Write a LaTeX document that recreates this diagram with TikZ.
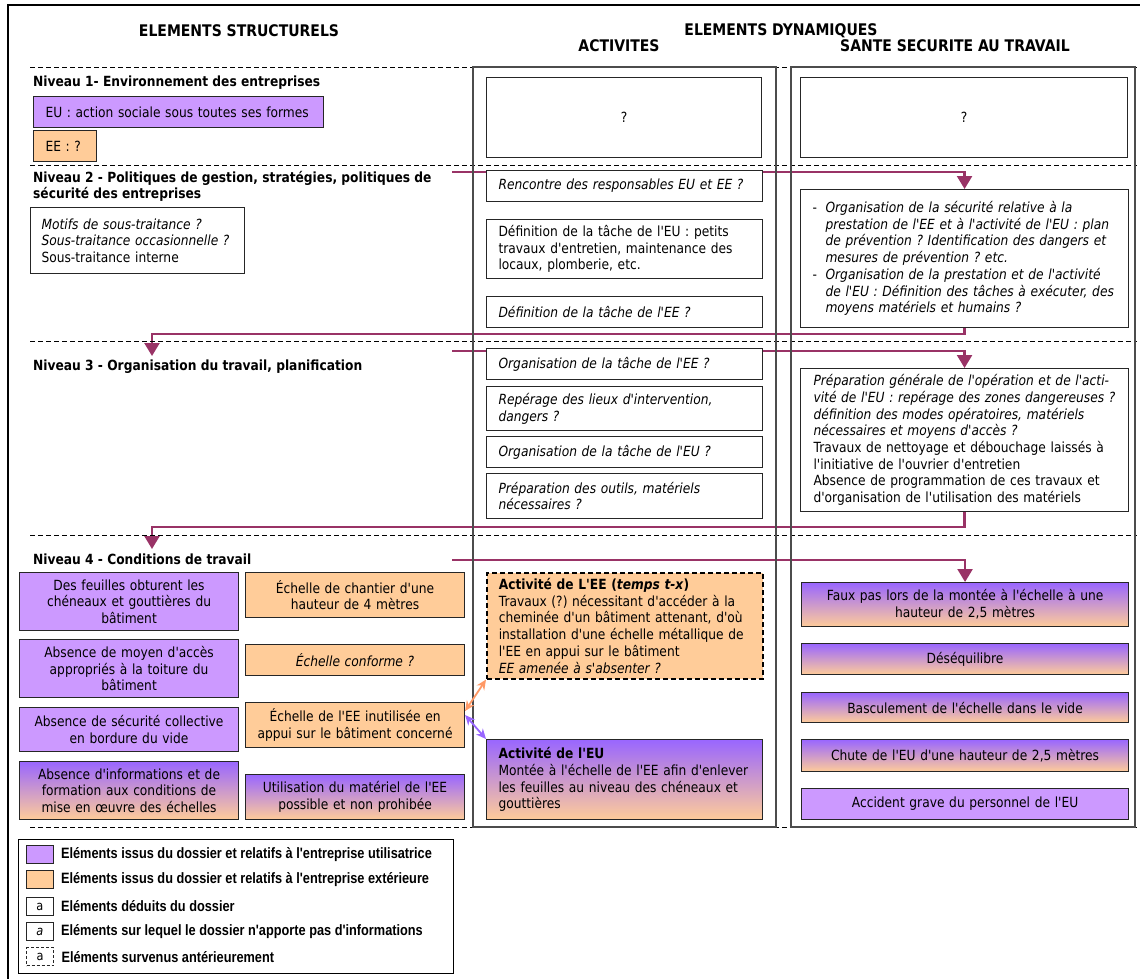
\documentclass[tikz,border=0pt]{standalone}
\usepackage{fontspec}
\usepackage{xfp}
\usepackage{tikz}
\usetikzlibrary{arrows.meta}
\newfontfamily\tahfont{DejaVu Sans}[FakeStretch=0.875]
\newfontfamily\legfont{Liberation Sans}[FakeStretch=0.85]
\definecolor{eucol}{HTML}{CC99FF}
\definecolor{eecol}{HTML}{FFCC99}
\definecolor{mixcol}{HTML}{9966FF}
\definecolor{flowcol}{HTML}{993366}
\definecolor{eelinkcol}{HTML}{FF9966}
\pgfdeclarelayer{background}
\pgfsetlayers{background,main}
\frenchspacing

\begin{document}
\begin{tikzpicture}[x=1pt,y=-1pt,font=\tahfont\fontsize{14}{16.7}\selectfont,
cell/.style n args={3}{rectangle,draw=black!85,line width=1.1pt,fill=white,anchor=north west,inner xsep=#3pt,inner ysep=0pt,minimum height=#2pt,text width=\fpeval{#1-2*#3}pt},
eu/.style={fill=eucol},ee/.style={fill=eecol},mix/.style={top color=mixcol,bottom color=eecol},
lvl/.style={font=\tahfont\bfseries\fontsize{14}{16.7}\selectfont,anchor=west,inner sep=0pt,align=left},
head/.style={font=\tahfont\bfseries\fontsize{16}{18}\selectfont,inner sep=0pt},
flow/.style={draw=flowcol,line width=2.4pt,-{Triangle[length=13pt,width=15pt]}},
link/.style={line width=1.8pt,{Stealth[length=10pt,width=9pt]}-{Stealth[length=10pt,width=9pt]}},
sep/.style={dash pattern=on 5pt off 3pt,line width=0.9pt},
colframe/.style={draw=black!70,line width=2pt},
swatch/.style={rectangle,draw=black!85,line width=0.9pt,anchor=north west,minimum width=27pt,minimum height=18pt,inner sep=0pt,font=\tahfont\fontsize{13}{13}\selectfont},
legtext/.style={anchor=west,inner sep=0pt,font=\legfont\bfseries\fontsize{15}{17}\selectfont}]
\useasboundingbox (0,0) rectangle (1140,979);
\draw[line width=2pt] (1140,5) -| (8,979);
\foreach \y in {67,165,341,535,827} {
   \draw[sep] (30,\y) -- (1137,\y);
}
\draw[colframe] (473,67) rectangle (776,827);
\draw[colframe] (791,67) rectangle (1135,827);

\node[head] (hstruct) at (239,31) {ELEMENTS STRUCTURELS};
\node[head] (hdyn) at (781,31) {ELEMENTS DYNAMIQUES};
\node[head] (hact) at (619,46) {ACTIVITES};
\node[head] (hsst) at (955,46) {SANTE SECURITE AU TRAVAIL};

\node[lvl] (niv1) at (33,83) {Niveau 1- Environnement des entreprises};
\node[cell={290}{31}{12},eu,align=left] (eu1) at (33,96) {EU : action sociale sous toutes ses formes};
\node[cell={63}{31}{12},ee,align=left] (ee1) at (33,130) {EE : ?};
\node[cell={275}{80}{12},align=center] (act1) at (486,77) {?};
\node[cell={327}{80}{12},align=center] (sst1) at (800,77) {?};

\node[lvl] (niv2) at (33,186.5) {Niveau 2 - Politiques de gestion, stratégies, politiques de\\sécurité des entreprises};
\node[cell={214}{66}{11},align=left] (motifs) at (30,207) {\textit{Motifs de sous-traitance ?}\\\textit{Sous-traitance occasionnelle ?}\\Sous-traitance interne};
\node[cell={276}{31}{12},align=left] (rencontre) at (486,170) {\textit{Rencontre des responsables EU et EE ?}};
\node[cell={276}{59}{12},align=left] (defeu) at (486,219) {Définition de la tâche de l'EU : petits\\travaux d'entretien, maintenance des\\locaux, plomberie, etc.};
\node[cell={276}{31}{12},align=left] (defee) at (486,296) {\textit{Définition de la tâche de l'EE ?}};
\node[cell={328}{138}{12},align=left] (sst2) at (800,189) {\makebox[13pt][l]{-}\textit{Organisation de la sécurité relative à la}\\
\hspace*{13pt}\textit{prestation de l'EE et à l'activité de l'EU : plan}\\
\hspace*{13pt}\textit{de prévention ? Identification des dangers et}\\
\hspace*{13pt}\textit{mesures de prévention ? etc.}\\
\makebox[13pt][l]{-}\textit{Organisation de la prestation et de l'activité}\\
\hspace*{13pt}\textit{de l'EU : Définition des tâches à exécuter, des}\\
\hspace*{13pt}\textit{moyens matériels et humains ?}};

\node[lvl] (niv3) at (33,367) {Niveau 3 - Organisation du travail, planification};
\node[cell={276}{31}{12},align=left] (orgee) at (486,348) {\textit{Organisation de la tâche de l'EE ?}};
\node[cell={276}{44}{12},align=left] (reperage) at (486,386) {\textit{Repérage des lieux d'intervention,}\\\textit{dangers ?}};
\node[cell={276}{31}{12},align=left] (orgeu) at (486,436) {\textit{Organisation de la tâche de l'EU ?}};
\node[cell={276}{45}{12},align=left] (outils) at (486,473) {\textit{Préparation des outils, matériels}\\\textit{nécessaires ?}};
\node[cell={328}{143}{13},align=left] (sst3) at (800,368) {\textit{Préparation générale de l'opération et de l'acti-}\\
\textit{vité de l'EU : repérage des zones dangereuses ?}\\
\textit{définition des modes opératoires, matériels}\\
\textit{nécessaires et moyens d'accès ?}\\
Travaux de nettoyage et débouchage laissés à\\
l'initiative de l'ouvrier d'entretien\\
Absence de programmation de ces travaux et\\
d'organisation de l'utilisation des matériels};

\node[lvl] (niv4) at (33,559) {Niveau 4 - Conditions de travail};
\node[cell={219}{58}{6},eu,align=center] (feuilles) at (19,572) {Des feuilles obturent les\\chéneaux et gouttières du\\bâtiment};
\node[cell={219}{58}{6},eu,align=center] (acces) at (19,639) {Absence de moyen d'accès\\appropriés à la toiture du\\bâtiment};
\node[cell={219}{44}{6},eu,align=center] (secu) at (19,707) {Absence de sécurité collective\\en bordure du vide};
\node[cell={219}{58}{6},mix,align=center] (infos) at (19,761) {Absence d'informations et de\\formation aux conditions de\\mise en œuvre des échelles};
\node[cell={219}{45}{6},ee,align=center] (echchantier) at (245,572) {Échelle de chantier d'une\\hauteur de 4 mètres};
\node[cell={219}{31}{6},ee,align=center] (echconf) at (245,644) {\textit{Échelle conforme ?}};
\node[cell={219}{45}{6},ee,align=center] (echee) at (245,702) {Échelle de l'EE inutilisée en\\appui sur le bâtiment concerné};
\node[cell={219}{45}{6},mix,align=center] (utilmat) at (245,774) {Utilisation du matériel de l'EE\\possible et non prohibée};
\node[cell={276}{106}{12},ee,align=left,dash pattern=on 5pt off 3pt,draw=black,line width=1.6pt] (actee) at (486,572) {\textbf{Activité de L'EE (\textit{temps t-x})}\\Travaux (?) nécessitant d'accéder à la\\cheminée d'un bâtiment attenant, d'où\\installation d'une échelle métallique de\\l'EE en appui sur le bâtiment\\\textit{EE amenée à s'absenter ?}};
\node[cell={276}{80}{12},mix,align=left] (acteu) at (486,739) {\textbf{Activité de l'EU}\\Montée à l'échelle de l'EE afin d'enlever\\les feuilles au niveau des chéneaux et\\gouttières};
\node[cell={327}{44}{6},mix,align=center] (fauxpas) at (801,582) {Faux pas lors de la montée à l'échelle à une\\hauteur de 2,5 mètres};
\node[cell={327}{31}{6},mix,align=center] (deseq) at (801,643) {Déséquilibre};
\node[cell={327}{30}{6},mix,align=center] (bascul) at (801,692) {Basculement de l'échelle dans le vide};
\node[cell={327}{32}{6},mix,align=center] (chute) at (801,739) {Chute de l'EU d'une hauteur de 2,5 mètres};
\node[cell={327}{31}{6},eu,align=center] (accident) at (801,788) {Accident grave du personnel de l'EU};

\draw[link,draw=eelinkcol] ([yshift=-9pt]echee.north east) -- (actee.south west);
\draw[link,draw=mixcol] ([yshift=-13pt]echee.north east) -- (acteu.north west);

\node[draw=black,line width=1.1pt,anchor=north west,minimum width=435pt,minimum height=134pt,inner sep=0pt] (legend) at (18,839) {};
\node[swatch,eu] (sw1) at (26,845) {};
\node[swatch,ee] (sw2) at (26,870) {};
\node[swatch] (sw3) at (26,897) {a};
\node[swatch] (sw4) at (26,922) {\textit{a}};
\node[swatch,dash pattern=on 3pt off 2pt,line width=1.3pt] (sw5) at (26,947) {a};
\node[legtext] (lt1) at ([xshift=7pt]sw1.east) {Eléments issus du dossier et relatifs à l'entreprise utilisatrice};
\node[legtext] (lt2) at ([xshift=7pt]sw2.east) {Eléments issus du dossier et relatifs à l'entreprise extérieure};
\node[legtext] (lt3) at ([xshift=7pt]sw3.east) {Eléments déduits du dossier};
\node[legtext] (lt4) at ([xshift=7pt]sw4.east) {Eléments sur lequel le dossier n'apporte pas d'informations};
\node[legtext] (lt5) at ([xshift=7pt]sw5.east) {Eléments survenus antérieurement};

\begin{pgfonlayer}{background}
\coordinate (in2) at (452,172);
\coordinate (bend2) at (152,334);
\coordinate (out2) at (152,356);
\coordinate (in3) at (452,351);
\coordinate (bend3) at (152,527);
\coordinate (out3) at (152,549);
\coordinate (in4) at (452,560);
\draw[flow] (in2) -| (sst2.north);
\draw[flow] (sst2.south) |- (bend2) -- (out2);
\draw[flow] (in3) -| (sst3.north);
\draw[flow] (sst3.south) |- (bend3) -- (out3);
\draw[flow] (in4) -| (fauxpas.north);
\end{pgfonlayer}
\end{tikzpicture}
\end{document}
